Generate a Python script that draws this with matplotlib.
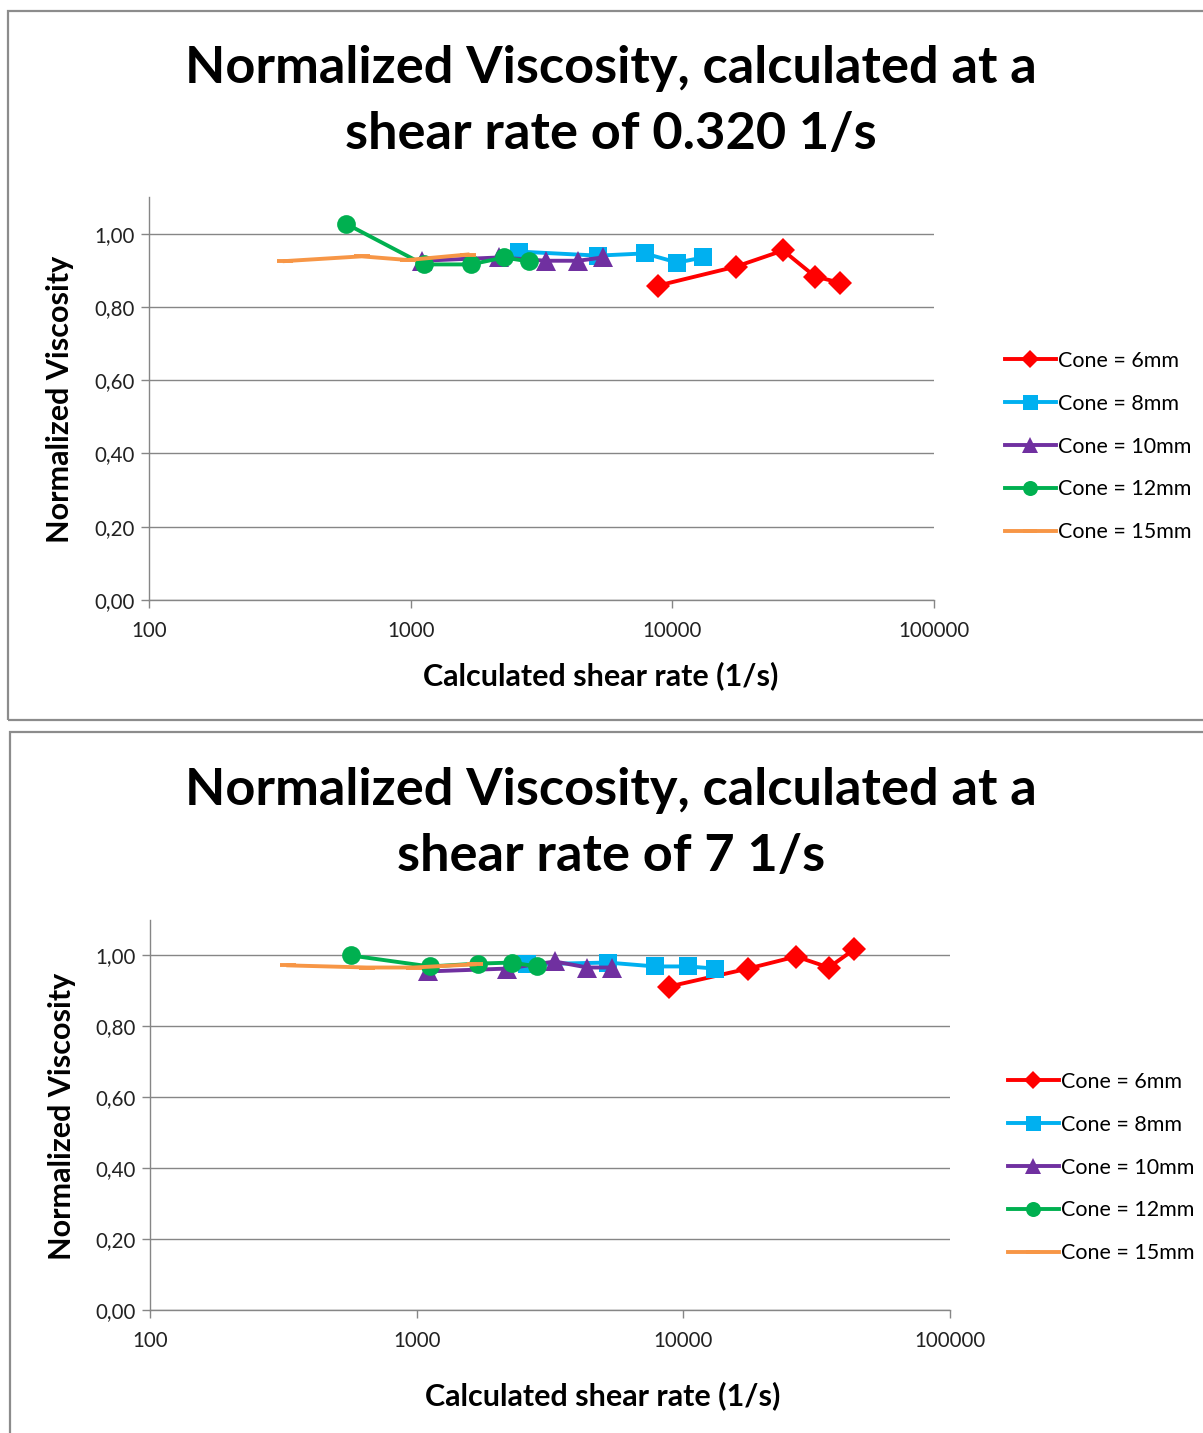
import numpy as np
import matplotlib
matplotlib.use('Agg')
import matplotlib.pyplot as plt
from matplotlib.patches import Rectangle
from matplotlib.ticker import FuncFormatter, FixedLocator, NullLocator

plt.rcParams['font.family'] = ['Lato', 'DejaVu Sans']

# Shear rates (1/s) per cone, shared by both charts
x6 = [8800, 17500, 26500, 35100, 43700]
x8 = [2595, 5200, 7840, 10450, 13100]
x10 = [1102, 2185, 3295, 4370, 5415]
x12 = [566, 1120, 1698, 2276, 2830]
x15 = [330, 650, 975, 1650]

# Normalized viscosity at 0.320 1/s
y6_a = [0.858, 0.910, 0.954, 0.883, 0.866]
y8_a = [0.951, 0.940, 0.946, 0.921, 0.935]
y10_a = [0.926, 0.935, 0.926, 0.926, 0.935]
y12_a = [1.027, 0.916, 0.916, 0.935, 0.924]
y15_a = [0.925, 0.938, 0.928, 0.943]

# Normalized viscosity at 7 1/s
y6_b = [0.912, 0.963, 0.997, 0.966, 1.017]
y8_b = [0.975, 0.980, 0.969, 0.969, 0.963]
y10_b = [0.955, 0.963, 0.983, 0.966, 0.966]
y12_b = [1.000, 0.969, 0.977, 0.980, 0.969]
y15_b = [0.972, 0.966, 0.966, 0.975]

labels = ['Cone = 6mm', 'Cone = 8mm', 'Cone = 10mm', 'Cone = 12mm', 'Cone = 15mm']
colors = ['#FF0000', '#00B0F0', '#7030A0', '#00B050', '#F79646']
markers = ['D', 's', '^', 'o', '_']
msizes = [12, 13.5, 14, 13.5, 12]
xs = [x6, x8, x10, x12, x15]

titles = ['Normalized Viscosity, calculated at a\nshear rate of 0.320 1/s',
          'Normalized Viscosity, calculated at a\nshear rate of 7 1/s']
xticks = [100, 1000, 10000, 100000]
yticks = [0, 0.2, 0.4, 0.6, 0.8, 1.0]

W, H = 1203, 1433
fig = plt.figure(figsize=(W/100, H/100), dpi=100)
grey = '#868686'

# panel geometry in pixels
panels = [
    dict(ys=[y6_a, y8_a, y10_a, y12_a, y15_a], l=149, r=934, b=600, t=197,
         ty=102, xl=676, xc=601, yl=60, lt=351, lx=1005, box=(8, 11, 720)),
    dict(ys=[y6_b, y8_b, y10_b, y12_b, y15_b], l=150, r=950, b=1310, t=920,
         ty=823, xl=1396, xc=603, yl=62, lt=1072, lx=1008, box=(10, 732, 1440)),
]

for k, p in enumerate(panels):
    bx, btop, bbot = p['box']
    fig.patches.append(Rectangle((bx/W, 1-bbot/H), 1.2, (bbot-btop)/H,
                                 transform=fig.transFigure, fill=False,
                                 edgecolor='#8c8c8c', lw=1.6))
    ax = fig.add_axes([p['l']/W, 1-p['b']/H, (p['r']-p['l'])/W, (p['b']-p['t'])/H])
    for i in range(5):
        ax.plot(xs[i], p['ys'][i], color=colors[i], marker=markers[i], ms=msizes[i],
                mew=2.8 if markers[i] == '_' else 0, lw=2.8, label=labels[i],
                solid_joinstyle='round')
    ax.set_xscale('log')
    ax.set_xlim(100, 100000)
    ax.set_ylim(0, 1.1)
    ax.xaxis.set_major_locator(FixedLocator(xticks))
    ax.xaxis.set_minor_locator(NullLocator())
    ax.xaxis.set_major_formatter(FuncFormatter(lambda v, pos: f'{int(round(v))}'))
    ax.set_yticks(yticks)
    ax.yaxis.set_major_formatter(FuncFormatter(lambda v, pos: f'{v:.2f}'.replace('.', ',')))
    ax.grid(axis='y', color=grey, lw=1)
    ax.set_axisbelow(True)
    for s in ['top', 'right']:
        ax.spines[s].set_visible(False)
    for s in ['left', 'bottom']:
        ax.spines[s].set_color(grey)
        ax.spines[s].set_linewidth(1)
    ax.tick_params(axis='both', colors=grey, labelcolor='#222222', labelsize=14.8, length=6, width=1)
    ax.tick_params(axis='x', pad=9)
    ax.tick_params(axis='y', pad=4)

    fig.text(0.508, 1-p['ty']/H, titles[k], ha='center', va='center',
             fontsize=37.7, fontweight='bold', linespacing=1.5)
    fig.text(p['xc']/W, 1-p['xl']/H, 'Calculated shear rate (1/s)',
             ha='center', va='center', fontsize=22, fontweight='bold')
    fig.text(p['yl']/W, 1-((p['b']+p['t'])/2+1)/H, 'Normalized Viscosity', rotation=90,
             ha='center', va='center', fontsize=22, fontweight='bold')

    h, lab = ax.get_legend_handles_labels()
    fig.legend(h, lab, loc='upper left', bbox_to_anchor=(p['lx']/W, 1-p['lt']/H),
               frameon=False, fontsize=15.5, borderaxespad=0, borderpad=0,
               handlelength=2.35, handletextpad=0.1, labelspacing=1.06,
               markerscale=0.8, numpoints=1)

fig.savefig('out.png', dpi=100)
